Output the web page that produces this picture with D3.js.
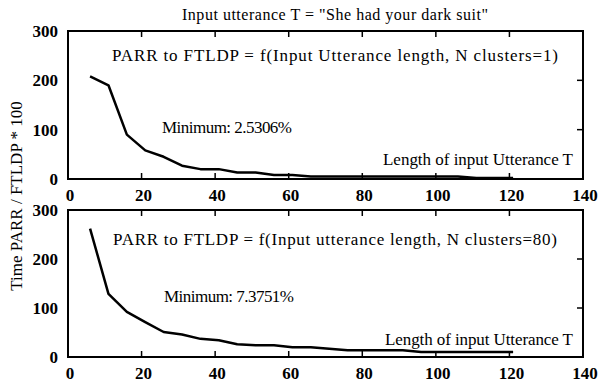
<!DOCTYPE html>
<html>
<head>
<meta charset="utf-8">
<script src="https://cdn.jsdelivr.net/npm/d3@7"></script>
<style>
  body { margin: 0; background: #fff; }
</style>
</head>
<body>
<div id="chart"></div>
<script>
// utterance lengths (x) shared by both panels
var lengths = [6, 11, 16, 21, 26, 31, 36, 41, 46, 51, 56, 61, 66, 71, 76, 81, 86, 91, 96, 101, 106, 111, 116, 121];
// time ratio * 100, N clusters = 1
var ratioClusters1 = [208, 190, 90, 58, 45, 27, 20, 20, 13, 13, 8, 8, 5, 5, 5, 5, 5, 5, 5, 5, 5, 2, 2, 2];
// time ratio * 100, N clusters = 80
var ratioClusters80 = [262, 129, 92, 71, 51, 46, 37, 34, 26, 24, 24, 20, 20, 17, 14, 14, 14, 14, 10, 10, 10, 10, 10, 10];
var xTicks = [0, 20, 40, 60, 80, 100, 120, 140];
var yTicks = [0, 100, 200, 300];

var width = 608, height = 383;
var serif = "'Liberation Serif'";

var svg = d3.select("#chart").append("svg")
    .attr("width", width)
    .attr("height", height);

var x = d3.scaleLinear().domain([0, 140]).range([68, 583]);

function addText(parent, px, py, str, size) {
    return parent.append("text")
        .attr("x", px).attr("y", py)
        .attr("font-size", size)
        .style("font-family", serif)
        .text(str);
}

// title
addText(svg, 335, 20, 'Input utterance T = "She had your dark suit"', 16)
    .attr("text-anchor", "middle")
    .attr("textLength", 306).attr("lengthAdjust", "spacing");

// y label shared by both panels
addText(svg, 0, 0, "Time PARR / FTLDP * 100", 17)
    .attr("transform", "translate(22,196) rotate(-90)")
    .attr("text-anchor", "middle");

function drawPanel(values, top, bottom, labels) {
    var y = d3.scaleLinear().domain([0, 300]).range([bottom, top]);
    var g = svg.append("g");

    // inner ticks, matlab style box
    var inner = xTicks.slice(1, -1);
    g.selectAll(".xt-bottom").data(inner).enter().append("line")
        .attr("x1", d => x(d)).attr("x2", d => x(d))
        .attr("y1", bottom).attr("y2", bottom - 6)
        .attr("stroke", "#000").attr("stroke-width", 1.5);
    g.selectAll(".xt-top").data(inner).enter().append("line")
        .attr("x1", d => x(d)).attr("x2", d => x(d))
        .attr("y1", top).attr("y2", top + 6)
        .attr("stroke", "#000").attr("stroke-width", 1.5);
    g.selectAll(".yt-right").data(yTicks.slice(1, -1)).enter().append("line")
        .attr("x1", x(140)).attr("x2", x(140) - 6)
        .attr("y1", d => y(d)).attr("y2", d => y(d))
        .attr("stroke", "#000").attr("stroke-width", 1.5);

    // the box
    g.append("rect")
        .attr("x", x(0)).attr("y", top)
        .attr("width", x(140) - x(0)).attr("height", bottom - top)
        .attr("fill", "none").attr("stroke", "#000").attr("stroke-width", 2);

    // tick labels
    xTicks.forEach(function(t) {
        addText(g, x(t) + 2, bottom + 22, t, 17)
            .attr("text-anchor", "middle").attr("font-weight", "bold");
    });
    yTicks.forEach(function(t) {
        addText(g, 58, y(t), t, 17)
            .attr("dy", "0.35em")
            .attr("text-anchor", "end").attr("font-weight", "bold");
    });

    // the curve
    var line = d3.line()
        .x((d, i) => x(lengths[i]))
        .y(d => y(d));
    g.append("path")
        .datum(values)
        .attr("d", line)
        .attr("fill", "none")
        .attr("stroke", "#000")
        .attr("stroke-width", 2.5)
        .attr("stroke-linejoin", "round");

    // annotations
    labels.forEach(function(l) {
        addText(g, l.x, l.y, l.text, 17)
            .attr("textLength", l.w)
            .attr("lengthAdjust", "spacing");
    });
}

drawPanel(ratioClusters1, 31, 179, [
    {x: 112, y: 61, w: 446, text: "PARR to FTLDP = f(Input Utterance length, N clusters=1)"},
    {x: 162, y: 133, w: 130, text: "Minimum: 2.5306%"},
    {x: 383, y: 165, w: 190, text: "Length of input Utterance T"}
]);
drawPanel(ratioClusters80, 210, 357, [
    {x: 113, y: 245, w: 444, text: "PARR to FTLDP = f(Input utterance length, N clusters=80)"},
    {x: 164, y: 302, w: 130, text: "Minimum: 7.3751%"},
    {x: 385, y: 345, w: 188, text: "Length of input Utterance T"}
]);
</script>
</body>
</html>
